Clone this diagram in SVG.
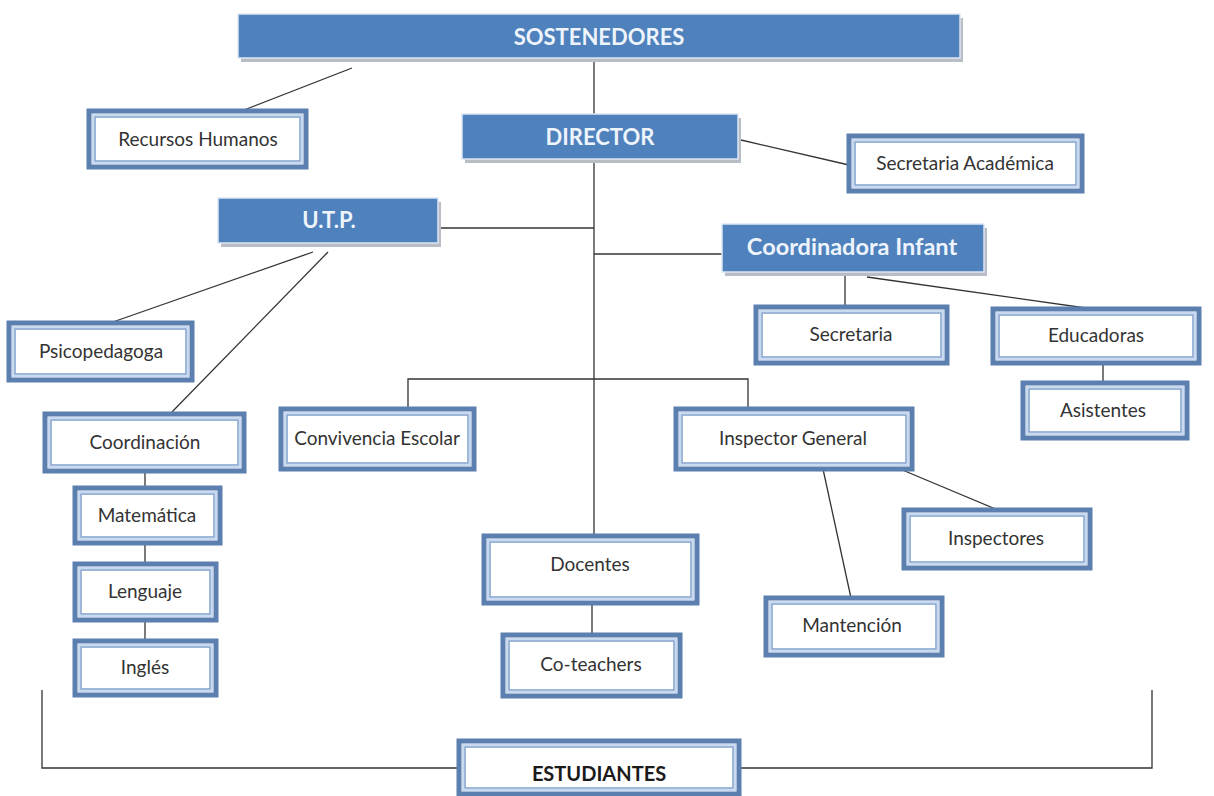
<svg xmlns="http://www.w3.org/2000/svg" width="1214" height="796" viewBox="0 0 1214 796">
<defs>
<style>
.bg{fill:#ffffff}
.shadow{fill:#b9bec6}
.blue{fill:#4f81bd;stroke:#dbe6f4;stroke-width:1.5}
.bt{font-family:Lato,"Liberation Sans",sans-serif;font-weight:bold;font-size:22px;fill:#eef4fb;text-anchor:middle}
.ob{fill:#ffffff;stroke:#5b7fae;stroke-width:5}
.mb{fill:none;stroke:#c9daf0;stroke-width:2}
.ib{fill:none;stroke:#7f9fcc;stroke-width:1.5}
.wt{font-family:Lato,"Liberation Sans",sans-serif;font-size:19px;fill:#333333;text-anchor:middle}
.wtb{font-family:Lato,"Liberation Sans",sans-serif;font-size:20px;font-weight:bold;fill:#1a1a1a;text-anchor:middle}
.ln{stroke:#333333;stroke-width:1.3;fill:none}
</style>
</defs>
<rect class="bg" x="0" y="0" width="1214" height="796"/>

<g id="connectors">
<line class="ln" x1="352" y1="68" x2="244" y2="110"/>
<line class="ln" x1="594" y1="62" x2="594" y2="114"/>
<line class="ln" x1="594" y1="162" x2="594" y2="536"/>
<line class="ln" x1="741" y1="140" x2="849" y2="165"/>
<line class="ln" x1="440" y1="228" x2="594" y2="228"/>
<line class="ln" x1="594" y1="254" x2="722" y2="254"/>
<line class="ln" x1="313" y1="252" x2="110" y2="323"/>
<line class="ln" x1="328" y1="252" x2="170" y2="414"/>
<line class="ln" x1="145" y1="471" x2="145" y2="488"/>
<line class="ln" x1="145" y1="543" x2="145" y2="564"/>
<line class="ln" x1="145" y1="620" x2="145" y2="641"/>
<line class="ln" x1="845" y1="274" x2="845" y2="307"/>
<line class="ln" x1="867" y1="277" x2="1093" y2="309"/>
<line class="ln" x1="1103" y1="363" x2="1103" y2="383"/>
<polyline class="ln" points="408,409 408,379 748,379 748,409"/>
<line class="ln" x1="823" y1="469" x2="851" y2="598"/>
<line class="ln" x1="900" y1="469" x2="998" y2="510"/>
<line class="ln" x1="592" y1="603" x2="592" y2="635"/>
<polyline class="ln" points="42,690 42,768 459,768"/>
<polyline class="ln" points="739,768 1152,768 1152,690"/>
</g>

<g id="sostenedores">
<rect class="shadow" x="241" y="18" width="722" height="44"/>
<rect class="blue" x="238" y="14" width="722" height="44"/>
<text class="bt" x="599" y="45">SOSTENEDORES</text>
</g>
<g id="director">
<rect class="shadow" x="465" y="118" width="276" height="45"/>
<rect class="blue" x="462" y="114" width="276" height="45"/>
<text class="bt" x="600" y="145">DIRECTOR</text>
</g>
<g id="utp">
<rect class="shadow" x="221" y="202" width="220" height="45"/>
<rect class="blue" x="218" y="198" width="220" height="45"/>
<text class="bt" x="329" y="228">U.T.P.</text>
</g>
<g id="coordinadora">
<rect class="shadow" x="725" y="228" width="262" height="48"/>
<rect class="blue" x="722" y="224" width="262" height="48"/>
<text class="bt" x="852" y="255" style="font-size:23.5px">Coordinadora Infant</text>
</g>

<g id="recursos">
<rect class="ob" x="89" y="111" width="217" height="56"/>
<rect class="mb" x="93" y="115" width="209" height="48"/>
<rect class="ib" x="95" y="117" width="205" height="44"/>
<text class="wt" x="198" y="146">Recursos Humanos</text>
</g>
<g id="secacad">
<rect class="ob" x="849" y="136" width="233" height="55"/>
<rect class="mb" x="853" y="140" width="225" height="47"/>
<rect class="ib" x="855" y="142" width="221" height="43"/>
<text class="wt" x="965" y="170">Secretaria Académica</text>
</g>
<g id="psicopedagoga">
<rect class="ob" x="9" y="323" width="183" height="57"/>
<rect class="mb" x="13" y="327" width="175" height="49"/>
<rect class="ib" x="15" y="329" width="171" height="45"/>
<text class="wt" x="101" y="358">Psicopedagoga</text>
</g>
<g id="coordinacion">
<rect class="ob" x="45" y="414" width="199" height="57"/>
<rect class="mb" x="49" y="418" width="191" height="49"/>
<rect class="ib" x="51" y="420" width="187" height="45"/>
<text class="wt" x="145" y="449">Coordinación</text>
</g>
<g id="matematica">
<rect class="ob" x="75" y="488" width="145" height="55"/>
<rect class="mb" x="79" y="492" width="137" height="47"/>
<rect class="ib" x="81" y="494" width="133" height="43"/>
<text class="wt" x="147" y="522">Matemática</text>
</g>
<g id="lenguaje">
<rect class="ob" x="75" y="564" width="141" height="56"/>
<rect class="mb" x="79" y="568" width="133" height="48"/>
<rect class="ib" x="81" y="570" width="129" height="44"/>
<text class="wt" x="145" y="598">Lenguaje</text>
</g>
<g id="ingles">
<rect class="ob" x="75" y="641" width="141" height="54"/>
<rect class="mb" x="79" y="645" width="133" height="46"/>
<rect class="ib" x="81" y="647" width="129" height="42"/>
<text class="wt" x="145" y="674">Inglés</text>
</g>
<g id="convivencia">
<rect class="ob" x="281" y="409" width="193" height="60"/>
<rect class="mb" x="285" y="413" width="185" height="52"/>
<rect class="ib" x="287" y="415" width="181" height="48"/>
<text class="wt" x="377" y="445">Convivencia Escolar</text>
</g>
<g id="inspectorgeneral">
<rect class="ob" x="676" y="409" width="236" height="60"/>
<rect class="mb" x="680" y="413" width="228" height="52"/>
<rect class="ib" x="682" y="415" width="224" height="48"/>
<text class="wt" x="793" y="445">Inspector General</text>
</g>
<g id="secretaria">
<rect class="ob" x="756" y="307" width="191" height="56"/>
<rect class="mb" x="760" y="311" width="183" height="48"/>
<rect class="ib" x="762" y="313" width="179" height="44"/>
<text class="wt" x="851" y="341">Secretaria</text>
</g>
<g id="educadoras">
<rect class="ob" x="993" y="309" width="206" height="54"/>
<rect class="mb" x="997" y="313" width="198" height="46"/>
<rect class="ib" x="999" y="315" width="194" height="42"/>
<text class="wt" x="1096" y="342">Educadoras</text>
</g>
<g id="asistentes">
<rect class="ob" x="1023" y="383" width="164" height="55"/>
<rect class="mb" x="1027" y="387" width="156" height="47"/>
<rect class="ib" x="1029" y="389" width="152" height="43"/>
<text class="wt" x="1103" y="417">Asistentes</text>
</g>
<g id="inspectores">
<rect class="ob" x="904" y="510" width="186" height="58"/>
<rect class="mb" x="908" y="514" width="178" height="50"/>
<rect class="ib" x="910" y="516" width="174" height="46"/>
<text class="wt" x="996" y="545">Inspectores</text>
</g>
<g id="mantencion">
<rect class="ob" x="766" y="598" width="176" height="57"/>
<rect class="mb" x="770" y="602" width="168" height="49"/>
<rect class="ib" x="772" y="604" width="164" height="45"/>
<text class="wt" x="852" y="632">Mantención</text>
</g>
<g id="docentes">
<rect class="ob" x="484" y="536" width="213" height="67"/>
<rect class="mb" x="488" y="540" width="205" height="59"/>
<rect class="ib" x="490" y="542" width="201" height="55"/>
<text class="wt" x="590" y="571">Docentes</text>
</g>
<g id="coteachers">
<rect class="ob" x="503" y="635" width="177" height="61"/>
<rect class="mb" x="507" y="639" width="169" height="53"/>
<rect class="ib" x="509" y="641" width="165" height="49"/>
<text class="wt" x="591" y="671">Co-teachers</text>
</g>
<g id="estudiantes">
<rect class="ob" x="459" y="741" width="280" height="53"/>
<rect class="mb" x="463" y="745" width="272" height="45"/>
<rect class="ib" x="465" y="747" width="268" height="41"/>
<text class="wtb" x="599" y="781">ESTUDIANTES</text>
</g>
</svg>
